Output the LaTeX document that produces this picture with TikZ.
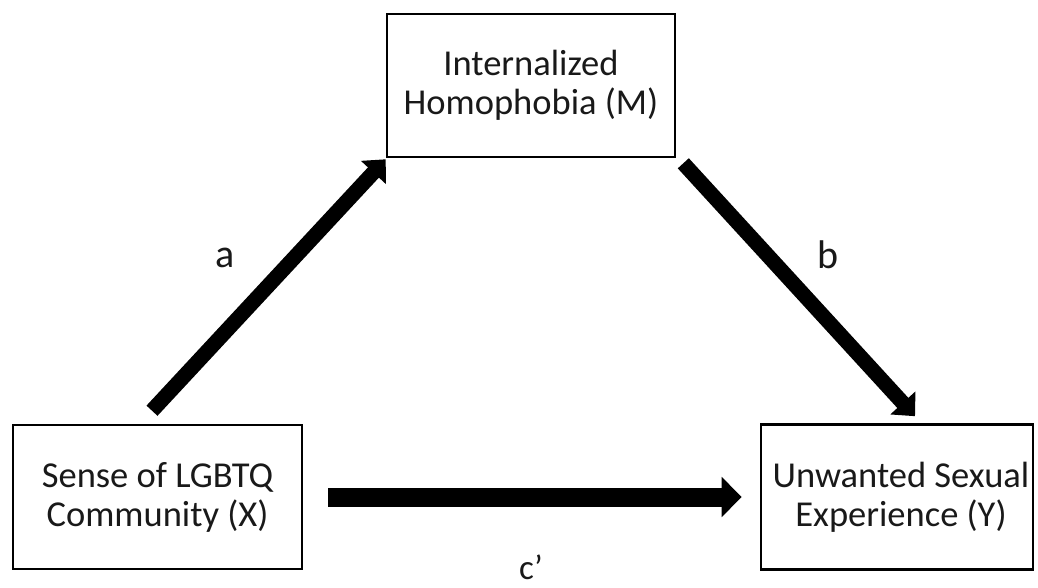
\documentclass[tikz,border=0pt]{standalone}
\usepackage{fontspec}
\setmainfont{Carlito}
\usetikzlibrary{arrows.meta}
\begin{document}
\begin{tikzpicture}[x=1pt,y=-1pt,
  boxnode/.style={draw=black, line width=2.6pt, inner sep=0pt, align=center,
    font=\fontsize{36.5}{39}\selectfont, text=black!90},
  thickarr/.style={line width=15pt, -{Triangle[length=18pt,width=33pt]}},
  wideharr/.style={line width=19pt, -{Triangle[length=20pt,width=39pt]}},
  lbl/.style={font=\fontsize{40}{44}\selectfont, text=black!90},
  lblc/.style={font=\fontsize{35}{38}\selectfont, text=black!90, inner sep=0pt, anchor=base}]
\useasboundingbox (0,0) rectangle (1038,588);
\node[boxnode, minimum width=288pt, minimum height=143pt] (M) at (531,85.5)
  {Internalized\\Homophobia (M)};
\node[boxnode, minimum width=289pt, minimum height=144pt] (X) at (157.5,497)
  {Sense of LGBTQ\\Community (X)};
\node[boxnode, minimum width=272pt, minimum height=145pt] (Y) at (897,497)
  {\hspace*{8pt}Unwanted Sexual\\\hspace*{8pt}Experience (Y)};
\draw[thickarr] ([xshift=-5.5pt,yshift=13pt]X.north) -- ([xshift=0pt,yshift=-1pt]M.south west);
\draw[thickarr] ([xshift=7pt,yshift=-5pt]M.south east) -- ([xshift=18pt,yshift=7pt]Y.north);
\draw[wideharr] ([xshift=25pt]X.east) -- ([xshift=-18pt]Y.west);
\node[lbl] (la) at (225,258) {a};
\node[lbl] (lb) at (828,255) {b};
\node[lblc] (lc) at (531,579) {c’};
\end{tikzpicture}
\end{document}
